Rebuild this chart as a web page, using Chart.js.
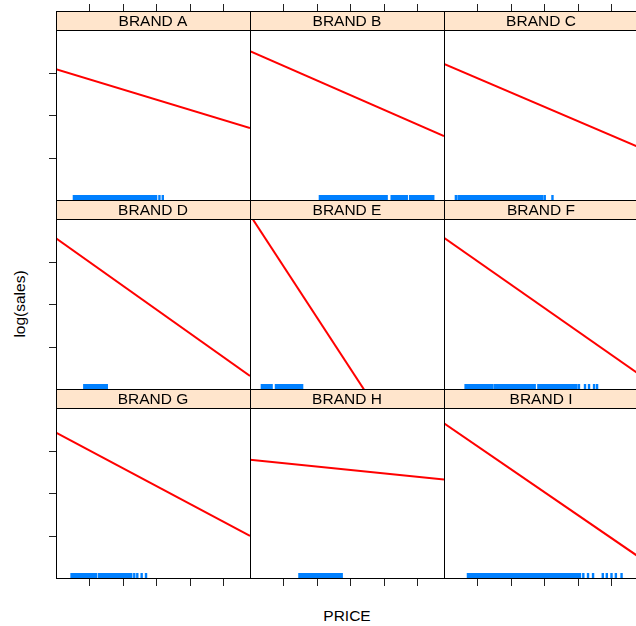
<!DOCTYPE html>
<html>
<head>
<meta charset="utf-8">
<script src="https://cdn.jsdelivr.net/npm/chart.js@4.4.0/dist/chart.umd.min.js"></script>
<style>
    html, body { margin: 0; padding: 0; background: #fff; overflow: hidden; }
    #wrap { position: relative; width: 636px; height: 626px; overflow: hidden; }
    #wrap canvas { position: absolute; }
    .lab { position: absolute; font-family: "Liberation Sans", Arial, sans-serif; font-size: 15.5px; color: #000; white-space: nowrap; transform: translate(-50%, -50%); }
    #xlab { left: 347px; top: 616px; }
    #ylab { left: 20px; top: 304px; transform: translate(-50%, -50%) rotate(-90deg); }
</style>
</head>
<body>
<div id="wrap">
    <div class="lab" id="xlab">PRICE</div>
    <div class="lab" id="ylab">log(sales)</div>
</div>
<script>
// Panels, in reading order (3 x 3 lattice)
var brands = ['BRAND A', 'BRAND B', 'BRAND C', 'BRAND D', 'BRAND E', 'BRAND F', 'BRAND G', 'BRAND H', 'BRAND I'];

// Fitted line: log(sales) at the left and right end of the price range
var lineStart = [6.15, 7.00, 6.40, 7.09, 8.19, 7.12, 6.84, 5.57, 7.28];
var lineEnd   = [3.39, 3.01, 2.50, 0.61, -5.79, 0.73, 1.98, 4.63, 1.02];

// Observed prices (rug)
var priceA = [0.55,0.6,0.67,0.71,0.78,0.84,0.88,0.95,1.01,1.05,1.12,1.18,1.22,1.29,1.35,1.39,1.46,1.52,1.56,1.63,1.69,1.73,1.8,1.86,1.9,1.97,2.03,2.07,2.14,2.2,2.24,2.31,2.37,2.41,2.48,2.54,2.58,2.65,2.71,2.75,2.82,2.88,2.93,3.0,3.1,3.2];
var priceB = [2.1,2.16,2.21,2.28,2.33,2.39,2.45,2.5,2.57,2.62,2.68,2.74,2.79,2.86,2.91,2.97,3.03,3.08,3.15,3.2,3.26,3.32,3.37,3.44,3.49,3.55,3.61,3.66,3.73,3.78,3.84,3.9,3.95,4.02,4.09,4.24,4.3,4.36,4.41,4.47,4.53,4.58,4.64,4.69,4.79,4.85,4.9,4.96,5.02,5.07,5.13,5.19,5.24,5.3,5.36,5.42,5.48];
var priceC = [0.37,0.45,0.5,0.56,0.62,0.67,0.73,0.79,0.84,0.9,0.96,1.01,1.07,1.13,1.18,1.24,1.3,1.35,1.41,1.47,1.52,1.58,1.64,1.69,1.75,1.81,1.86,1.92,1.98,2.03,2.09,2.15,2.2,2.26,2.32,2.37,2.43,2.49,2.54,2.6,2.66,2.71,2.77,2.83,2.88,2.94,3.02,3.25];
var priceD = [0.86,0.91,0.97,1.02,1.08,1.14,1.19,1.25,1.31,1.36,1.42,1.47,1.53];
var priceE = [0.37,0.43,0.48,0.54,0.6,0.66,0.79,0.85,0.9,0.96,1.02,1.07,1.13,1.19,1.24,1.3,1.36,1.41,1.47,1.52,1.57];
var priceF = [0.66,0.71,0.77,0.83,0.88,0.94,1.0,1.05,1.11,1.17,1.22,1.28,1.34,1.39,1.45,1.53,1.58,1.64,1.7,1.75,1.81,1.87,1.92,1.98,2.04,2.09,2.15,2.21,2.26,2.32,2.38,2.43,2.49,2.55,2.6,2.66,2.72,2.83,2.88,2.94,3.0,3.05,3.11,3.17,3.22,3.28,3.34,3.39,3.45,3.51,3.56,3.62,3.68,3.73,3.79,3.85,3.9,3.96,4.04,4.22,4.34,4.49,4.58];
var priceG = [0.48,0.53,0.59,0.65,0.7,0.76,0.82,0.87,0.93,0.99,1.04,1.1,1.16,1.21,1.3,1.35,1.41,1.47,1.52,1.58,1.64,1.69,1.75,1.81,1.86,1.92,1.98,2.03,2.09,2.15,2.2,2.26,2.35,2.44,2.57,2.7];
var priceH = [1.49,1.55,1.61,1.66,1.72,1.78,1.83,1.89,1.95,2.0,2.06,2.12,2.17,2.23,2.29,2.34,2.4,2.46,2.51,2.57,2.63,2.68,2.75];
var priceI = [0.73,0.78,0.84,0.9,0.95,1.01,1.07,1.12,1.18,1.24,1.29,1.35,1.41,1.46,1.52,1.58,1.63,1.69,1.75,1.8,1.86,1.92,1.97,2.03,2.09,2.14,2.2,2.26,2.31,2.37,2.43,2.48,2.54,2.6,2.65,2.71,2.77,2.82,2.88,2.94,2.99,3.05,3.11,3.16,3.22,3.28,3.33,3.39,3.45,3.5,3.56,3.62,3.67,3.73,3.79,3.84,3.9,3.96,4.01,4.07,4.17,4.31,4.46,4.75,4.87,5.01,5.14,5.31];
var rugPrices = [priceA, priceB, priceC, priceD, priceE, priceF, priceG, priceH, priceI];

// Axis ticks (unlabelled) and ranges shared by all panels
var xTicks = [1, 2, 3, 4, 5];
var yTicks = [2, 4, 6];
var xRange = [0.016, 5.8];
var yRange = [0, 8];

// Layout of the lattice
var panelLeft = [56, 250, 444];
var panelTop = [30, 219, 408];
var panelW = 194, panelH = 170, stripH = 19, margin = 10, tickLen = 7;

var latticePanel = {
    id: 'latticePanel',
    afterDatasetsDraw: function(chart, args, opts) {
        var ctx = chart.ctx;
        var area = chart.chartArea;
        var xs = chart.scales.x;
        var ys = chart.scales.y;
        var i = opts.index;
        var row = Math.floor(i / 3), col = i % 3;

        ctx.save();
        // rug
        ctx.strokeStyle = '#0080ff';
        ctx.lineWidth = 2.4;
        ctx.beginPath();
        rugPrices[i].forEach(function(p) {
            var px = xs.getPixelForValue(p);
            ctx.moveTo(px, area.bottom);
            ctx.lineTo(px, area.bottom - 5);
        });
        ctx.stroke();

        // strip
        var sTop = area.top - stripH;
        ctx.fillStyle = '#ffe5cc';
        ctx.fillRect(area.left, sTop, area.right - area.left, stripH);
        ctx.strokeStyle = '#000';
        ctx.lineWidth = 1;
        ctx.strokeRect(area.left + 0.5, sTop + 0.5, area.right - area.left, stripH);
        ctx.strokeRect(area.left + 0.5, area.top + 0.5, area.right - area.left, area.bottom - area.top);

        ctx.fillStyle = '#000';
        ctx.font = '15.5px "Liberation Sans", Arial, sans-serif';
        ctx.textAlign = 'center';
        ctx.textBaseline = 'middle';
        ctx.fillText(brands[i], (area.left + area.right) / 2, sTop + stripH / 2 + 1.5);

        // outer ticks
        ctx.strokeStyle = '#222';
        ctx.beginPath();
        xTicks.forEach(function(t) {
            var px = Math.round(xs.getPixelForValue(t)) + 0.5;
            if (row === 0) {
                ctx.moveTo(px, sTop);
                ctx.lineTo(px, sTop - tickLen);
            }
            if (row === 2) {
                ctx.moveTo(px, area.bottom + 1);
                ctx.lineTo(px, area.bottom + 1 + tickLen);
            }
        });
        yTicks.forEach(function(t) {
            var py = Math.round(ys.getPixelForValue(t)) + 0.5;
            if (col === 0) {
                ctx.moveTo(area.left, py);
                ctx.lineTo(area.left - tickLen, py);
            }
            if (col === 2) {
                ctx.moveTo(area.right + 1, py);
                ctx.lineTo(area.right + 1 + tickLen, py);
            }
        });
        ctx.stroke();
        ctx.restore();
    }
};

var wrap = document.getElementById('wrap');
brands.forEach(function(brand, i) {
    var row = Math.floor(i / 3), col = i % 3;
    var canvas = document.createElement('canvas');
    canvas.width = panelW + 2 * margin;
    canvas.height = margin + stripH + panelH + margin;
    canvas.style.left = (panelLeft[col] - margin) + 'px';
    canvas.style.top = (panelTop[row] - stripH - margin) + 'px';
    wrap.appendChild(canvas);

    new Chart(canvas.getContext('2d'), {
        type: 'scatter',
        data: {
            datasets: [{
                data: [
                    { x: xRange[0], y: lineStart[i] },
                    { x: xRange[1], y: lineEnd[i] }
                ],
                showLine: true,
                borderColor: '#ff0000',
                borderWidth: 2,
                pointRadius: 0,
                clip: 0
            }]
        },
        options: {
            responsive: false,
            animation: false,
            events: [],
            layout: {
                padding: { left: margin, right: margin, top: margin + stripH, bottom: margin }
            },
            scales: {
                x: { type: 'linear', display: false, min: xRange[0], max: xRange[1] },
                y: { type: 'linear', display: false, min: yRange[0], max: yRange[1] }
            },
            plugins: {
                legend: { display: false },
                tooltip: { enabled: false },
                latticePanel: { index: i }
            }
        },
        plugins: [latticePanel]
    });
});
</script>
</body>
</html>
